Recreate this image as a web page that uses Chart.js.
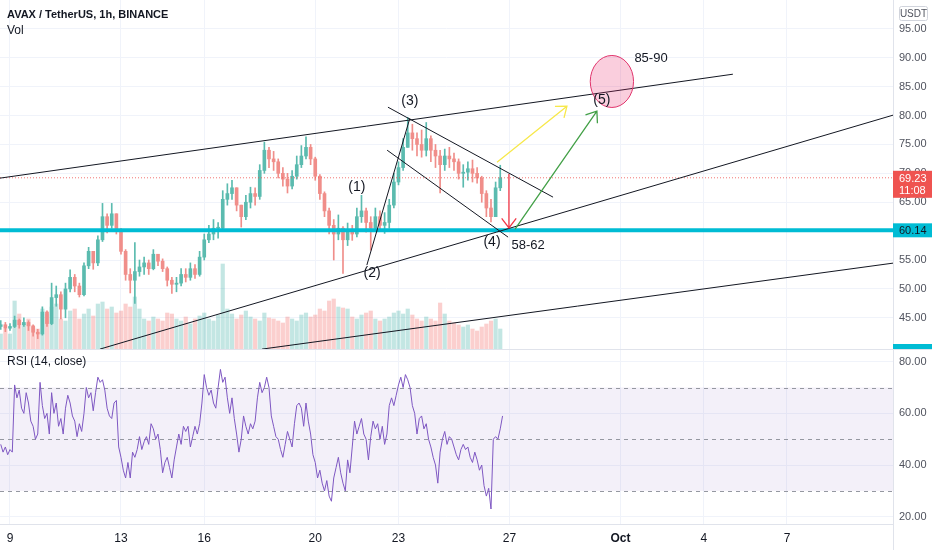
<!DOCTYPE html>
<html>
<head>
<meta charset="utf-8">
<title>AVAX / TetherUS, 1h, BINANCE</title>
<script src="https://cdn.jsdelivr.net/npm/chart.js@4.4.1/dist/chart.umd.min.js"></script>
<style>
  html, body { margin: 0; padding: 0; background: #fff; overflow: hidden; }
  #wrap { position: relative; width: 932px; height: 550px; }
  #pricePane { position: absolute; left: 0; top: 0; width: 932px; height: 349px; }
  #rsiPane { position: absolute; left: 0; top: 349px; width: 932px; height: 201px; }
</style>
</head>
<body>
<div id="wrap">
  <div id="pricePane"><canvas id="priceChart"></canvas></div>
  <div id="rsiPane"><canvas id="rsiChart"></canvas></div>
</div>
<script>
/* Data (4h candles, x in days of September, Oct 1 = 31) */
const firstCandleDay = 8 + 16 / 24;
const candleStepDays = 4 / 24;
const rsiStepDays = 2 / 24;
const firstOpen = 43.5;

const closes = [
  43.8, 43.2, 43.5, 44.6, 43.8, 44.2, 43.6, 42.5, 42.2, 46.0,
  44.0, 48.5, 49.0, 46.5, 50.0, 52.0, 50.5, 49.0, 54.0, 56.5,
  54.5, 58.5, 62.5, 61.0, 63.0, 60.0, 56.5, 52.5, 51.5, 53.0,
  53.8, 54.5, 53.5, 56.0, 54.8, 53.5, 51.5, 50.8, 51.0, 52.5,
  52.0, 53.5, 52.5, 55.5, 58.5, 59.5, 60.5, 60.5, 65.5, 66.5,
  67.5, 64.5, 62.5, 65.0, 66.5, 66.0, 70.5, 74.0, 72.5, 72.0,
  70.0, 69.0, 67.8, 69.5, 71.5, 73.0, 74.5, 72.5, 69.5, 66.5,
  63.5, 61.0, 59.5, 60.5, 58.5, 59.8, 59.5, 62.5, 63.5, 61.5,
  60.5, 62.5, 61.0, 61.5, 64.5, 68.5, 71.0, 74.5, 77.0, 76.0,
  75.0, 74.0, 76.0, 74.0, 73.0, 71.5, 73.0, 72.5, 72.0, 70.0,
  70.2, 70.8, 70.0, 69.2, 66.5, 64.0, 62.5, 67.5, 69.23
];
const highs = [
  44.5, 44.2, 44.0, 45.3, 44.8, 45.0, 44.5, 43.8, 43.0, 46.9,
  46.2, 51.0, 50.5, 49.5, 51.0, 53.3, 52.5, 51.0, 54.5, 57.2,
  56.0, 59.2, 64.8, 63.0, 64.8, 62.6, 60.5, 56.8, 53.5, 58.0,
  55.0, 55.5, 55.0, 56.8, 56.0, 55.2, 53.8, 52.0, 52.0, 53.5,
  53.5, 54.5, 54.2, 56.5, 59.5, 61.0, 62.0, 61.5, 67.0, 68.2,
  68.8, 67.5, 64.5, 66.2, 67.6, 67.5, 71.5, 75.4, 74.5, 73.8,
  72.5, 71.0, 70.0, 70.5, 73.0, 74.8, 76.3, 75.0, 72.8, 69.8,
  66.8, 64.0, 62.0, 62.8, 60.8, 61.4, 61.0, 64.0, 66.2, 64.0,
  62.5, 64.0, 63.5, 63.2, 65.5, 70.0, 72.0, 76.0, 79.7, 78.5,
  77.0, 77.5, 78.8, 76.5, 75.0, 74.0, 74.2, 74.5, 73.5, 72.5,
  71.5, 72.0, 72.3, 71.0, 69.5, 67.0, 65.5, 68.5, 71.4
];
const lows = [
  43.0, 42.6, 42.8, 43.3, 43.2, 43.5, 42.8, 41.8, 41.4, 42.0,
  43.5, 43.8, 47.0, 44.8, 45.0, 49.5, 49.5, 48.6, 48.8, 53.5,
  53.4, 54.0, 58.2, 59.7, 60.5, 59.5, 56.0, 51.5, 49.3, 47.5,
  52.2, 52.5, 52.5, 53.3, 54.0, 53.0, 50.5, 49.2, 49.5, 50.5,
  51.2, 51.5, 51.8, 52.2, 55.0, 58.0, 58.5, 58.8, 60.0, 64.5,
  65.5, 63.5, 60.7, 62.0, 64.0, 64.5, 65.5, 70.0, 71.0, 70.5,
  69.2, 67.8, 66.6, 67.3, 69.0, 71.0, 72.5, 71.5, 68.8, 65.5,
  62.5, 59.5, 55.0, 58.5, 52.7, 57.5, 58.4, 59.0, 61.5, 59.8,
  56.7, 60.0, 60.0, 59.6, 60.5, 64.0, 68.0, 70.5, 74.5, 74.0,
  73.0, 72.8, 73.0, 72.0, 71.0, 66.6, 70.5, 71.0, 70.5, 69.0,
  67.6, 68.8, 68.5, 68.3, 65.0, 62.5, 61.6, 62.5, 67.0
];
const volumes = [
  15, 20, 15, 48, 35, 25, 30, 22, 20,
  40, 35, 42, 45, 30, 28, 38, 40,
  30, 35, 40, 33, 45, 47, 40, 42, 36,
  38, 45, 42, 52, 40, 30, 28, 32, 30, 28, 36, 35,
  30, 28, 32, 25, 30, 33, 36, 30, 28, 34,
  85,
  40, 35, 30, 34, 38, 32, 30, 28, 36, 31,
  30, 28, 26, 32, 30, 28, 34, 36, 32, 34, 40, 38, 48, 50, 42,
  41, 40, 32, 30, 34, 36, 38, 30, 28, 30, 32, 36, 38, 35,
  40, 34, 30, 28, 32, 30, 28, 46, 35, 28, 26, 24, 22,
  24, 20, 18, 22, 25, 28, 30, 20
];
// RSI(14, close), read every 2 hours
const rsiValues = [
  48, 45, 47, 44, 46, 45, 71, 66, 69, 62,
  60, 68, 64, 57, 55, 50, 52, 72, 63, 58,
  60, 52, 68, 60, 64, 55, 58, 52, 62, 67,
  64, 59, 57, 51, 56, 53, 60, 70, 66, 68,
  61, 68, 74, 72, 73, 69, 62, 59, 58, 64,
  65, 47, 43, 38, 35, 41, 35, 45, 43, 46,
  51, 46, 49, 51, 48, 56, 54, 50, 52, 46,
  37, 41, 43, 39, 35, 42, 47, 52, 48, 55,
  53, 55, 47, 51, 55, 52, 56, 64, 75, 70,
  67, 69, 64, 62, 70, 77, 72, 74, 66, 60,
  66, 58, 52, 45, 50, 59, 55, 52, 56, 54,
  57, 66, 72, 68, 70, 74, 70, 59, 55, 51,
  50, 46, 43, 48, 53, 50, 47, 56, 63, 64,
  62, 55, 64, 57, 52, 44, 41, 35, 38, 33,
  30, 34, 28, 26, 35, 39, 43, 37, 33, 30,
  42, 37, 47, 57, 52, 55, 58, 52, 50, 42,
  51, 57, 54, 56, 50, 55, 48, 52, 63, 66,
  63, 67, 71, 74, 70, 75, 73, 70, 63, 60,
  52, 58, 59, 54, 56, 50, 47, 43, 40, 33,
  45, 50, 53, 48, 51, 50, 47, 44, 42, 46,
  48, 46, 47, 43, 41, 45, 42, 38, 40, 32,
  28, 31, 23, 50, 51, 50, 54, 59
];

const supportLevel = 60.14;
const lastPrice = 69.23;
const lastBarCountdown = '11:08';
const priceTicks = [45, 50, 55, 60, 65, 70, 75, 80, 85, 90, 95];
const rsiTicks = [20, 40, 60, 80];
const rsiLevels = [70, 50, 30];
const dayTicks = [9, 13, 16, 20, 23, 27, 31, 34, 37];
const dayTickLabels = ['9', '13', '16', '20', '23', '27', 'Oct', '4', '7'];

/* Drawings: [day, price, day, price] */
const trendLines = [
  [8.64, 69.17, 35.05, 87.16],
  [12.24, 39.58, 40.82, 80.07],
  [18.08, 39.58, 40.82, 54.46],
  [22.62, 81.45, 28.57, 65.88],
  [22.59, 74.01, 26.95, 58.96],
  [21.86, 54.12, 23.41, 79.55]
];
const arrows = [
  { from: [26.55, 71.94], to: [29.07, 81.63], color: '#f7e84a' },
  { from: [27.2, 60.35], to: [30.15, 80.76], color: '#43a047' },
  { from: [26.98, 69.9], to: [26.98, 60.55], color: '#f23645' }
];
const targetZone = { day: 30.69, price: 85.9, halfDays: 0.78, halfPrice: 4.5 };
const chartNotes = [
  { text: '(1)', day: 21.5, price: 67.6, size: 14 },
  { text: '(2)', day: 22.05, price: 52.73, size: 14 },
  { text: '(3)', day: 23.41, price: 82.49, size: 14 },
  { text: '(4)', day: 26.37, price: 58.1, size: 14 },
  { text: '(5)', day: 30.33, price: 82.66, size: 14 },
  { text: '58-62', day: 27.67, price: 57.58, size: 13 },
  { text: '85-90', day: 32.1, price: 89.93, size: 13 }
];

const X_MIN = 8.64, X_MAX = 40.82;
const FONT = '"Liberation Sans", Arial, sans-serif';
const UP = '#5bbbaf', DOWN = '#f08e8a';
const UP_VOL = 'rgba(38,166,154,0.28)', DOWN_VOL = 'rgba(239,83,80,0.28)';

const candleDay = i => firstCandleDay + i * candleStepDays;
const opens = closes.map((c, i) => (i === 0 ? firstOpen : closes[i - 1]));
const isUp = closes.map((c, i) => c >= opens[i]);

function noPadding(s) {
  s.paddingTop = 0; s.paddingBottom = 0; s.paddingLeft = 0; s.paddingRight = 0;
}

function dayAxis(showLabels) {
  return {
    type: 'linear', min: X_MIN, max: X_MAX, offset: false,
    afterBuildTicks: s => { s.ticks = dayTicks.map(v => ({ value: v })); },
    afterFit: s => { s.height = showLabels ? 26 : 0; noPadding(s); },
    grid: { color: '#f0f3fa', drawTicks: false, offset: false },
    border: { display: showLabels, color: '#e0e3eb' },
    ticks: {
      display: showLabels, autoSkip: false, maxRotation: 0, padding: 7, color: '#131722',
      font: ctx => ({ family: FONT, size: 12, weight: dayTickLabels[ctx.index] === 'Oct' ? 'bold' : 'normal' }),
      callback: v => dayTickLabels[dayTicks.indexOf(v)]
    }
  };
}

function valueAxis(min, max, ticks) {
  return {
    type: 'linear', position: 'right', min: min, max: max,
    afterBuildTicks: s => { s.ticks = ticks.map(v => ({ value: v })); },
    afterFit: s => { s.width = 39; noPadding(s); },
    grid: { color: '#f0f3fa', drawTicks: false },
    border: { display: true, color: '#e0e3eb' },
    ticks: { color: '#50535e', padding: 6, font: { family: FONT, size: 11 }, callback: v => v.toFixed(2) }
  };
}

function drawArrow(ctx, x0, y0, x1, y1, color) {
  const a = Math.atan2(y1 - y0, x1 - x0);
  const len = 12, spread = 0.65;
  ctx.strokeStyle = color;
  ctx.lineWidth = 1.3;
  ctx.beginPath();
  ctx.moveTo(x0, y0); ctx.lineTo(x1, y1);
  ctx.moveTo(x1 - len * Math.cos(a - spread), y1 - len * Math.sin(a - spread));
  ctx.lineTo(x1, y1);
  ctx.lineTo(x1 - len * Math.cos(a + spread), y1 - len * Math.sin(a + spread));
  ctx.stroke();
}

const priceDecor = {
  id: 'priceDecor',
  afterDatasetsDraw(chart) {
    const { ctx, scales: { x, y } } = chart;
    ctx.save();
    // target zone
    const cx = x.getPixelForValue(targetZone.day), cy = y.getPixelForValue(targetZone.price);
    const rx = x.getPixelForValue(targetZone.day + targetZone.halfDays) - cx;
    const ry = cy - y.getPixelForValue(targetZone.price + targetZone.halfPrice);
    ctx.beginPath();
    ctx.ellipse(cx, cy, rx, ry, 0, 0, Math.PI * 2);
    ctx.fillStyle = 'rgba(233,30,99,0.22)';
    ctx.fill();
    ctx.strokeStyle = '#e0336b';
    ctx.lineWidth = 1;
    ctx.stroke();

    arrows.forEach(a => {
      drawArrow(ctx, x.getPixelForValue(a.from[0]), y.getPixelForValue(a.from[1]),
        x.getPixelForValue(a.to[0]), y.getPixelForValue(a.to[1]), a.color);
    });

    ctx.fillStyle = '#131722';
    ctx.textAlign = 'center';
    ctx.textBaseline = 'middle';
    chartNotes.forEach(n => {
      ctx.font = n.size + 'px ' + FONT;
      ctx.fillText(n.text, x.getPixelForValue(n.day), y.getPixelForValue(n.price));
    });
    ctx.restore();
  },
  afterDraw(chart) {
    const { ctx, scales: { y }, chartArea } = chart;
    const axisX = chartArea.right;
    ctx.save();
    ctx.textBaseline = 'middle';
    ctx.textAlign = 'left';
    ctx.fillStyle = '#131722';
    ctx.font = 'bold 11px ' + FONT;
    ctx.fillText('AVAX / TetherUS, 1h, BINANCE', 7, 15);
    ctx.font = '12px ' + FONT;
    ctx.fillText('Vol', 7, 31);

    // currency badge
    ctx.strokeStyle = '#d1d4dc';
    ctx.lineWidth = 1;
    ctx.beginPath();
    ctx.roundRect(899.5, 6.5, 28, 14, 2);
    ctx.stroke();
    ctx.fillStyle = '#50535e';
    ctx.font = '10px ' + FONT;
    ctx.textAlign = 'center';
    ctx.fillText('USDT', 913.5, 14);

    // support label
    const sy = y.getPixelForValue(supportLevel);
    ctx.fillStyle = '#00bcd4';
    ctx.fillRect(axisX, sy - 7, 932 - axisX, 14);
    ctx.fillStyle = '#131722';
    ctx.font = '11px ' + FONT;
    ctx.textAlign = 'left';
    ctx.fillText(supportLevel.toFixed(2), axisX + 6, sy + 0.5);

    // last price label
    const ly = y.getPixelForValue(lastPrice);
    ctx.fillStyle = '#ef5350';
    ctx.fillRect(axisX, ly - 7, 932 - axisX, 27);
    ctx.fillStyle = '#ffffff';
    ctx.fillText(lastPrice.toFixed(2), axisX + 6, ly + 1);
    ctx.fillText(lastBarCountdown, axisX + 6, ly + 13);

    // clipped badge at the bottom of the pane
    ctx.fillStyle = '#00bcd4';
    ctx.fillRect(axisX, chartArea.bottom - 5, 932 - axisX, 5);
    ctx.restore();
  }
};

const priceChart = new Chart(document.getElementById('priceChart'), {
  type: 'bar',
  data: {
    datasets: [
      ...trendLines.map(l => ({
        type: 'line', data: [{ x: l[0], y: l[1] }, { x: l[2], y: l[3] }],
        borderColor: '#131722', borderWidth: 1, pointRadius: 0, order: 0
      })),
      {
        type: 'line', data: [{ x: X_MIN, y: supportLevel }, { x: X_MAX, y: supportLevel }],
        borderColor: '#00bcd4', borderWidth: 4, pointRadius: 0, order: 0
      },
      {
        type: 'line', data: [{ x: X_MIN, y: lastPrice }, { x: X_MAX, y: lastPrice }],
        borderColor: 'rgba(239,83,80,0.8)', borderWidth: 1, borderDash: [1, 2], pointRadius: 0, order: 1
      },
      {
        data: closes.map((c, i) => ({ x: candleDay(i), y: [opens[i], c] })),
        backgroundColor: isUp.map(u => (u ? UP : DOWN)),
        barThickness: 3, minBarLength: 1, grouped: false, order: 2
      },
      {
        data: closes.map((c, i) => ({
          x: candleDay(i),
          y: [Math.min(lows[i], opens[i], c), Math.max(highs[i], opens[i], c)]
        })),
        backgroundColor: isUp.map(u => (u ? UP : DOWN)),
        barThickness: 1, grouped: false, order: 3
      },
      {
        yAxisID: 'yVol',
        data: volumes.map((v, i) => ({ x: candleDay(i), y: v })),
        backgroundColor: isUp.map(u => (u ? UP_VOL : DOWN_VOL)),
        barThickness: 3.5, grouped: false, order: 4
      }
    ]
  },
  options: {
    responsive: true, maintainAspectRatio: false, animation: false, events: [],
    layout: { padding: 0 },
    plugins: { legend: { display: false }, tooltip: { enabled: false } },
    scales: {
      x: dayAxis(false),
      y: valueAxis(39.6, 100, priceTicks),
      yVol: { display: false, min: 0, max: 349 }
    }
  },
  plugins: [priceDecor]
});

const rsiDecor = {
  id: 'rsiDecor',
  beforeDatasetsDraw(chart) {
    const { ctx, scales: { y }, chartArea } = chart;
    ctx.save();
    const top = y.getPixelForValue(rsiLevels[0]), bottom = y.getPixelForValue(rsiLevels[2]);
    ctx.fillStyle = 'rgba(126,87,194,0.09)';
    ctx.fillRect(chartArea.left, top, chartArea.right - chartArea.left, bottom - top);
    ctx.strokeStyle = '#9598a1';
    ctx.lineWidth = 1;
    ctx.setLineDash([4, 4]);
    rsiLevels.forEach(v => {
      const py = Math.round(y.getPixelForValue(v)) + 0.5;
      ctx.beginPath();
      ctx.moveTo(chartArea.left, py);
      ctx.lineTo(chartArea.right, py);
      ctx.stroke();
    });
    ctx.restore();
  },
  afterDraw(chart) {
    const { ctx, chartArea } = chart;
    ctx.save();
    ctx.strokeStyle = '#e0e3eb';
    ctx.lineWidth = 1;
    ctx.beginPath();
    ctx.moveTo(0, 0.5); ctx.lineTo(932, 0.5);
    ctx.moveTo(chartArea.right + 0.5, chartArea.bottom); ctx.lineTo(chartArea.right + 0.5, 201);
    ctx.stroke();
    ctx.fillStyle = '#131722';
    ctx.font = '12px ' + FONT;
    ctx.textBaseline = 'middle';
    ctx.fillText('RSI (14, close)', 7, 13);
    ctx.restore();
  }
};

const rsiChart = new Chart(document.getElementById('rsiChart'), {
  type: 'line',
  data: {
    datasets: [{
      data: rsiValues.map((v, j) => ({ x: firstCandleDay + j * rsiStepDays, y: v })),
      borderColor: '#7e57c2', borderWidth: 1, pointRadius: 0, tension: 0
    }]
  },
  options: {
    responsive: true, maintainAspectRatio: false, animation: false, events: [],
    layout: { padding: 0 },
    plugins: { legend: { display: false }, tooltip: { enabled: false } },
    scales: {
      x: dayAxis(true),
      y: valueAxis(17.2, 84.9, rsiTicks)
    }
  },
  plugins: [rsiDecor]
});
</script>
</body>
</html>
